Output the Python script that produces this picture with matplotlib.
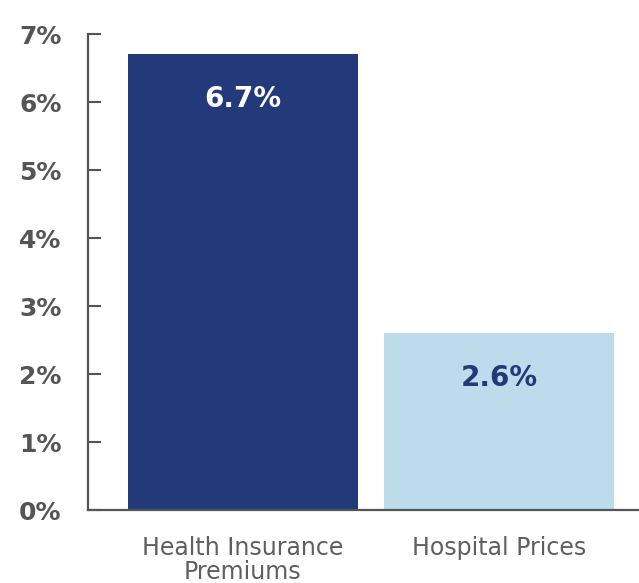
import matplotlib
matplotlib.use("Agg")
import matplotlib.pyplot as plt

categories = ["Health Insurance\nPremiums", "Hospital Prices"]
values = [6.7, 2.6]
value_labels = ["6.7%", "2.6%"]
bar_colors = ["#22397a", "#bcdcec"]
label_colors = ["white", "#22397a"]
yticks = [0, 1, 2, 3, 4, 5, 6, 7]
ytick_labels = ["0%", "1%", "2%", "3%", "4%", "5%", "6%", "7%"]

plt.rcParams['font.family'] = ['DejaVu Sans']

fig = plt.figure(figsize=(6.39, 5.83), dpi=100)
ax = fig.add_axes([88/639, 1-510/583, 1-88/639, (510-34)/583])

x = list(range(len(categories)))
ax.bar(x, values, width=0.9, color=bar_colors, zorder=2)

for xi, v, lab, c in zip(x, values, value_labels, label_colors):
    ax.annotate(lab, (xi, v), xytext=(0, -32), textcoords="offset points",
                ha="center", va="center", color=c, fontsize=20, fontweight="bold")

ax.set_xlim(-0.605, 1.547)
ax.set_ylim(0, 7)
ax.set_yticks(yticks)
ax.set_yticklabels(ytick_labels, fontsize=18, fontweight="bold", color="#555555")
ax.set_xticks(x)
ax.set_xticklabels(categories, fontsize=17, color="#5f5f5f", linespacing=1.0)

ax.tick_params(axis="y", direction="in", length=9, width=1.5, color="#555555", pad=19)
ax.tick_params(axis="x", length=0, pad=19)

for s in ["top", "right"]:
    ax.spines[s].set_visible(False)
for s in ["left", "bottom"]:
    ax.spines[s].set_color("#555555")
    ax.spines[s].set_linewidth(1.6)
ax.spines["bottom"].set_zorder(3)

fig.savefig("out.png", dpi=100)
